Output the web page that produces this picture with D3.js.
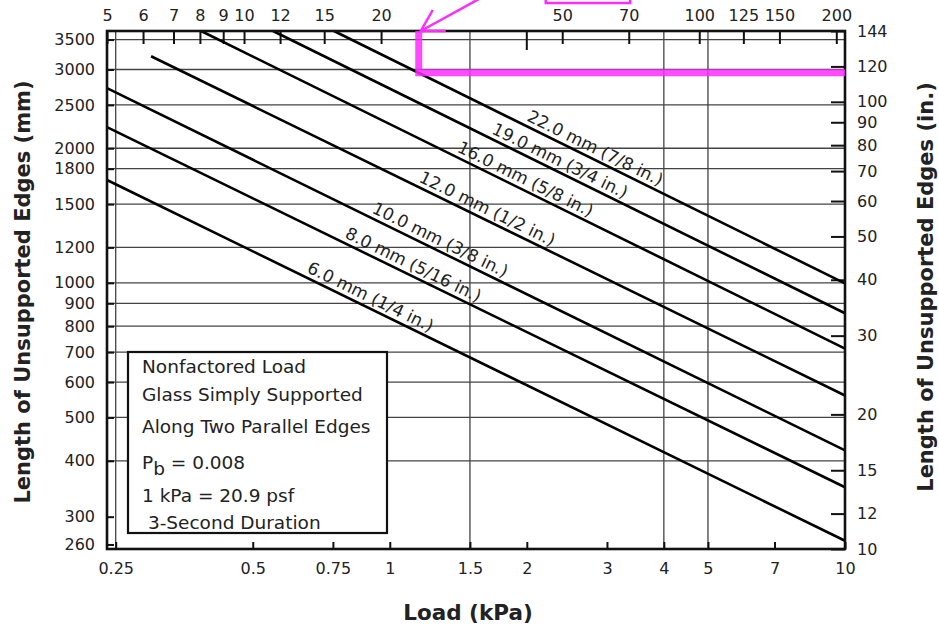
<!DOCTYPE html>
<html>
<head>
<meta charset="utf-8">
<script src="https://cdn.jsdelivr.net/npm/d3@7"></script>
<style>
  body { margin: 0; background: #fff; }
  svg text { font-family: "DejaVu Sans", Verdana, sans-serif; fill: #222; }
</style>
</head>
<body>
<div id="graf"></div>
<script>
// -- Datos --
// cada recta: punto inicial y final (kPa, mm)
const etiquetas = ['6.0 mm (1/4 in.)', '8.0 mm (5/16 in.)', '10.0 mm (3/8 in.)', '12.0 mm (1/2 in.)',
                   '16.0 mm (5/8 in.)', '19.0 mm (3/4 in.)', '22.0 mm (7/8 in.)']
const inicioKpa = [0.2392, 0.2392, 0.2392, 0.299, 0.385, 0.554, 0.754]
const inicioMm  = [1698, 2229, 2725, 3211, 3657.6, 3657.6, 3657.6]
const finKpa    = [10, 10, 10, 10, 10, 10, 10]
const finMm     = [265, 349, 422, 560, 713, 855, 997]
const etiquetaKpa = [0.886, 1.10, 1.26, 1.60, 1.94, 2.31, 2.76]

// ejes
const ticksKpa = [0.25, 0.5, 0.75, 1, 1.5, 2, 3, 4, 5, 7, 10]
const gridKpa  = [0.25, 1.5, 4, 5]
const ticksPsf = [5, 6, 7, 8, 9, 10, 12, 15, 20, 50, 70, 100, 125, 150, 200]
const ticksMm  = [260, 300, 400, 500, 600, 700, 800, 900, 1000, 1200, 1500, 1800, 2000, 2500, 3000, 3500]
const gridMm   = [400, 500, 600, 700, 800, 900, 1000, 1200, 1500, 1800, 2000, 2500, 3000, 3500]
const ticksIn  = [10, 12, 15, 20, 30, 40, 50, 60, 70, 80, 90, 100, 120, 144]
const psfPorKpa = 20.9

// recuadro de notas
const notas = ['Nonfactored Load', 'Glass Simply Supported', 'Along Two Parallel Edges',
               'P|b| = 0.008', '1 kPa = 20.9 psf', ' 3-Second Duration']

// marcas en magenta (psf, mm)
const marcaPsf = 24.2
const marcaMm  = 2950

// -- Canvas --
const ancho_total = 939, alto_total = 631
const svg = d3.select('#graf').append('svg')
    .attr('width', ancho_total).attr('height', alto_total)

const izq = 107, der = 845, arriba = 31, abajo = 549

// -- Escaladores --
const x = d3.scaleLog().domain([5 / psfPorKpa, 10]).range([izq, der])
const xPsf = d3.scaleLog().domain([5, 10 * psfPorKpa]).range([izq, der])
const y = d3.scaleLog().domain([254, 3657.6]).range([abajo, arriba])
const yIn = d3.scaleLog().domain([10, 144]).range([abajo, arriba])

const fmt = d => String(d)

// -- Rejilla --
svg.append('g').selectAll('line').data(gridMm).join('line')
   .attr('x1', izq).attr('x2', der)
   .attr('y1', d => y(d)).attr('y2', d => y(d))
   .attr('stroke', '#444').attr('stroke-width', 1.3)
svg.append('g').selectAll('line').data(gridKpa).join('line')
   .attr('x1', d => x(d)).attr('x2', d => x(d))
   .attr('y1', arriba).attr('y2', abajo)
   .attr('stroke', '#444').attr('stroke-width', 1.3)

// -- Ejes --
function estilo(g) {
  g.select('.domain').remove()
  g.selectAll('.tick line').attr('stroke', '#111').attr('stroke-width', 2)
  g.selectAll('.tick text').style('font-size', '16px').attr('fill', '#222')
}
svg.append('g').attr('transform', `translate(0,${abajo})`)
   .call(d3.axisBottom(x).tickValues(ticksKpa).tickFormat(fmt).tickSize(-7).tickPadding(14))
   .call(estilo)
svg.append('g').attr('transform', `translate(0,${arriba})`)
   .call(d3.axisTop(xPsf).tickValues(ticksPsf).tickFormat(fmt).tickSize(-13).tickPadding(10))
   .call(estilo)
// marca suelta bajo el eje superior (2 kPa)
svg.append('line').attr('x1', x(2)).attr('x2', x(2)).attr('y1', arriba).attr('y2', arriba + 19)
   .attr('stroke', '#111').attr('stroke-width', 2)
svg.append('g').attr('transform', `translate(${izq},0)`)
   .call(d3.axisLeft(y).tickValues(ticksMm).tickFormat(fmt).tickSize(-7).tickPadding(12))
   .call(estilo)
svg.append('g').attr('transform', `translate(${der},0)`)
   .call(d3.axisRight(yIn).tickValues(ticksIn).tickFormat(fmt).tickSize(-14).tickPadding(12))
   .call(estilo)

// -- Rectas --
const linea = d3.line().x(d => x(d[0])).y(d => y(d[1]))
etiquetas.forEach((t, i) => {
  const pts = [[inicioKpa[i], inicioMm[i]], [finKpa[i], finMm[i]]]
  svg.append('path').attr('d', linea(pts))
     .attr('fill', 'none').attr('stroke', '#000').attr('stroke-width', 2.6)

  const pend = Math.log(finMm[i] / inicioMm[i]) / Math.log(finKpa[i] / inicioKpa[i])
  const q = etiquetaKpa[i]
  const L = inicioMm[i] * Math.pow(q / inicioKpa[i], pend)
  const ang = Math.atan2(y(finMm[i]) - y(inicioMm[i]), x(finKpa[i]) - x(inicioKpa[i])) * 180 / Math.PI
  svg.append('text')
     .attr('transform', `translate(${x(q)},${y(L)}) rotate(${ang})`)
     .attr('text-anchor', 'middle').attr('dy', -5)
     .style('font-size', '17px')
     .text(t)
})

// -- Marco --
svg.append('rect').attr('x', izq).attr('y', arriba)
   .attr('width', der - izq).attr('height', abajo - arriba)
   .attr('fill', 'none').attr('stroke', '#111').attr('stroke-width', 2.6)

// -- Recuadro de notas --
const caja = svg.append('g')
caja.append('rect').attr('x', 128).attr('y', 352).attr('width', 259).attr('height', 181)
    .attr('fill', '#fff').attr('stroke', '#111').attr('stroke-width', 2.2)
const base = [373, 401, 433, 469, 502, 529]
notas.forEach((n, i) => {
  const t = caja.append('text').attr('x', 142).attr('y', base[i])
               .style('font-size', '18.5px').style('white-space', 'pre')
  const partes = n.split('|')
  t.append('tspan').text(partes[0])
  if (partes.length > 1) {
    t.append('tspan').attr('baseline-shift', '-30%').text(partes[1])
    t.append('tspan').attr('baseline-shift', '0').text(partes[2])
  }
})

// -- Títulos --
svg.append('text').attr('x', 468).attr('y', 620).attr('text-anchor', 'middle')
   .style('font-size', '21.5px').style('font-weight', 'bold').text('Load (kPa)')
svg.append('text').attr('transform', 'translate(30,292) rotate(-90)').attr('text-anchor', 'middle')
   .style('font-size', '21px').style('font-weight', 'bold').text('Length of Unsupported Edges (mm)')
svg.append('text').attr('transform', 'translate(933,287) rotate(-90)').attr('text-anchor', 'middle')
   .style('font-size', '21px').style('font-weight', 'bold').text('Length of Unsupported Edges (in.)')

// -- Anotación magenta --
const mg = '#ff2bff'
const mx = x(marcaPsf / psfPorKpa), my = y(marcaMm)
svg.append('path').attr('d', `M${mx},${arriba} V${my} H${der}`)
   .attr('fill', 'none').attr('stroke', mg).attr('stroke-width', 7).attr('opacity', 0.85)
svg.append('path').attr('d', `M${mx + 62},${-2} L${mx + 2},${arriba} M${mx + 14},${arriba - 21} L${mx + 2},${arriba} L${mx + 27},${arriba}`)
   .attr('fill', 'none').attr('stroke', mg).attr('stroke-width', 2.5)
svg.append('rect').attr('x', xPsf(46)).attr('y', -20).attr('width', xPsf(70.5) - xPsf(46)).attr('height', 23)
   .attr('fill', 'none').attr('stroke', mg).attr('stroke-width', 2.5)
</script>
</body>
</html>
